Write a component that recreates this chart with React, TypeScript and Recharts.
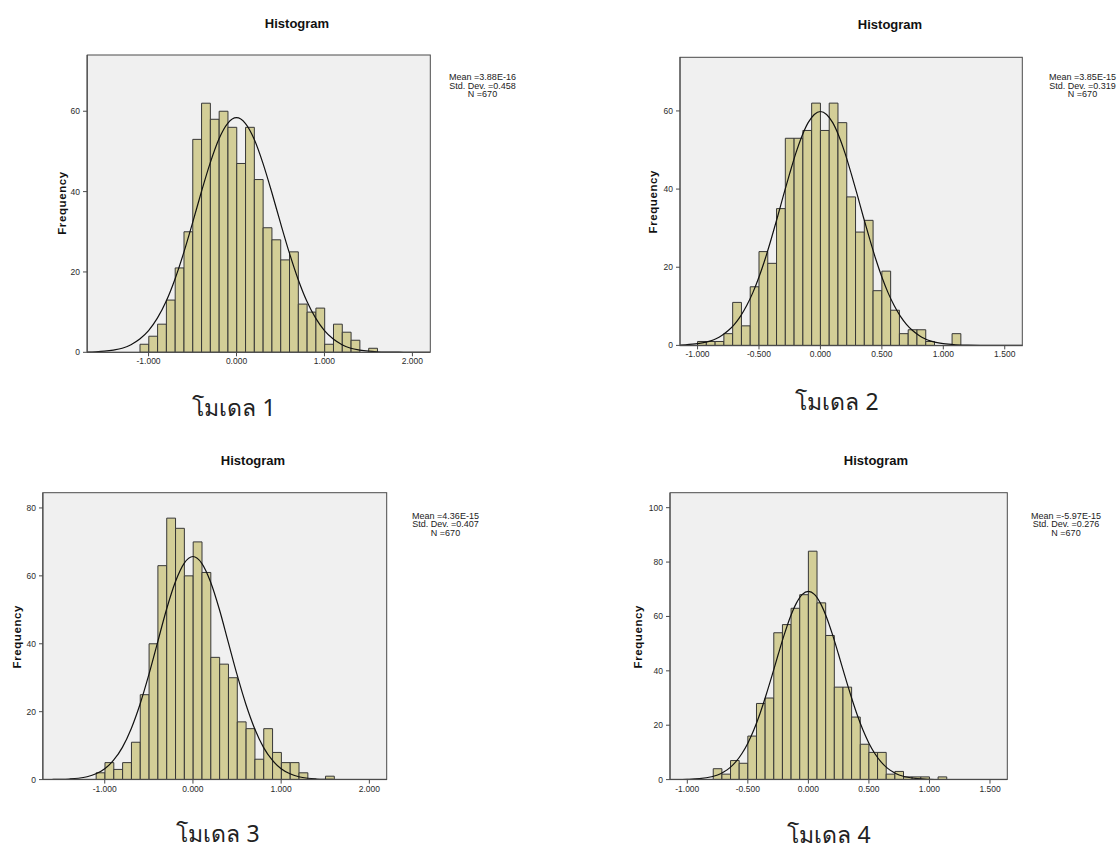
import { Bar, CartesianGrid, ComposedChart, Line, Rectangle, XAxis, YAxis } from "recharts";

// bin counts, left to right, starting at bin index firstBin
const model1Counts = [2, 4, 7, 13, 21, 30, 53, 62, 58, 60, 56, 47, 56, 43, 31, 28, 23, 25, 12, 10, 11, 2, 7, 5, 3, 0, 1];
const model2Counts = [1, 1, 1, 3, 11, 5, 15, 24, 21, 35, 53, 53, 55, 62, 55, 62, 57, 38, 29, 32, 14, 19, 9, 3, 4, 4, 1, 0, 0, 3];
const model3Counts = [2, 5, 3, 5, 11, 25, 40, 63, 77, 74, 60, 70, 61, 36, 34, 30, 17, 15, 6, 15, 8, 5, 5, 2, 0, 0, 1];
const model4Counts = [4, 2, 7, 6, 16, 28, 30, 54, 57, 63, 68, 84, 65, 53, 34, 34, 23, 13, 10, 10, 2, 3, 1, 1, 1, 0, 1];

// normal curve, read at these x positions
const model1CurveX = [-1.7, -1.6, -1.5, -1.4, -1.3, -1.2, -1.1, -1.0, -0.9, -0.8, -0.7, -0.6, -0.5, -0.4, -0.3, -0.2, -0.1, 0, 0.1, 0.2, 0.3, 0.4, 0.5, 0.6, 0.7, 0.8, 0.9, 1.0, 1.1, 1.2, 1.3, 1.4, 1.5, 1.6, 1.7, 1.8, 1.9, 2.0, 2.1, 2.2];
const model1CurveY = [0.06, 0.13, 0.27, 0.55, 1.0, 1.9, 3.3, 5.4, 8.5, 12.7, 18.2, 24.8, 32.2, 39.9, 47.1, 53.1, 57.0, 58.4, 57.0, 53.1, 47.1, 39.9, 32.2, 24.8, 18.2, 12.7, 8.5, 5.4, 3.3, 1.9, 1.0, 0.55, 0.27, 0.13, 0.06, 0.03, 0.01, 0, 0, 0];

const model2CurveX = [-1.2, -1.1, -1.0, -0.95, -0.9, -0.85, -0.8, -0.75, -0.7, -0.65, -0.6, -0.55, -0.5, -0.45, -0.4, -0.35, -0.3, -0.25, -0.2, -0.15, -0.1, -0.05, 0, 0.05, 0.1, 0.15, 0.2, 0.25, 0.3, 0.35, 0.4, 0.45, 0.5, 0.55, 0.6, 0.65, 0.7, 0.75, 0.8, 0.85, 0.9, 0.95, 1.0, 1.1, 1.2, 1.3, 1.4, 1.5, 1.7];
const model2CurveY = [0.05, 0.16, 0.44, 0.71, 1.1, 1.7, 2.6, 3.8, 5.4, 7.5, 10.2, 13.5, 17.5, 22.1, 27.3, 32.8, 38.5, 44.0, 49.2, 53.6, 57.0, 59.1, 59.85, 59.1, 57.0, 53.6, 49.2, 44.0, 38.5, 32.8, 27.3, 22.1, 17.5, 13.5, 10.2, 7.5, 5.4, 3.8, 2.6, 1.7, 1.1, 0.71, 0.44, 0.16, 0.05, 0.01, 0, 0, 0];

const model3CurveX = model1CurveX;
const model3CurveY = [0.01, 0.03, 0.07, 0.18, 0.4, 0.85, 1.7, 3.2, 5.7, 9.5, 15.0, 22.2, 30.9, 40.5, 50.1, 58.2, 63.7, 65.7, 63.7, 58.2, 50.1, 40.5, 30.9, 22.2, 15.0, 9.5, 5.7, 3.2, 1.7, 0.85, 0.4, 0.18, 0.07, 0.03, 0.01, 0, 0, 0, 0, 0];

const model4CurveX = [-1.2, -1.1, -1.0, -0.9, -0.8, -0.75, -0.7, -0.65, -0.6, -0.55, -0.5, -0.45, -0.4, -0.35, -0.3, -0.25, -0.2, -0.15, -0.1, -0.05, 0, 0.05, 0.1, 0.15, 0.2, 0.25, 0.3, 0.35, 0.4, 0.45, 0.5, 0.55, 0.6, 0.65, 0.7, 0.75, 0.8, 0.9, 1.0, 1.1, 1.2, 1.4, 1.7];
const model4CurveY = [0, 0.02, 0.1, 0.34, 1.04, 1.7, 2.8, 4.3, 6.5, 9.5, 13.4, 18.3, 24.2, 31.0, 38.3, 45.9, 53.2, 59.7, 64.8, 68.1, 69.2, 68.1, 64.8, 59.7, 53.2, 45.9, 38.3, 31.0, 24.2, 18.3, 13.4, 9.5, 6.5, 4.3, 2.8, 1.7, 1.04, 0.34, 0.1, 0.02, 0, 0, 0];

const wideTicks = [-1, 0, 1, 2];
const narrowTicks = [-1, -0.5, 0, 0.5, 1, 1.5];

const model1Stats = ["Mean =3.88E-16", "Std. Dev. =0.458", "N =670"];
const model2Stats = ["Mean =3.85E-15", "Std. Dev. =0.319", "N =670"];
const model3Stats = ["Mean =4.36E-15", "Std. Dev. =0.407", "N =670"];
const model4Stats = ["Mean =-5.97E-15", "Std. Dev. =0.276", "N =670"];

const captions = ["โมเดล 1", "โมเดล 2", "โมเดล 3", "โมเดล 4"];

const Y_AXIS_W = 50;
const PAD = 5;
const X_AXIS_H = 25;
const AXIS_COLOR = "#4a4a4a";
const FONT = "'Liberation Sans', Arial, sans-serif";

type PanelSpec = {
  counts: number[];
  firstBin: number;
  binWidth: number;
  curveX: number[];
  curveY: number[];
  xDomain: [number, number];
  xTicks: number[];
  yMax: number;
  yTicks: number[];
  stats: string[];
  caption: string;
  frame: { left: number; top: number; right: number; bottom: number };
  titleX: number;
  titleY: number;
  statsX: number;
  statsY: number;
  freqX: number;
  freqY: number;
  captionX: number;
  captionY: number;
};

const panels: PanelSpec[] = [
  {
    counts: model1Counts, firstBin: -11, binWidth: 0.1,
    curveX: model1CurveX, curveY: model1CurveY,
    xDomain: [-1.7, 2.2], xTicks: wideTicks, yMax: 74, yTicks: [0, 20, 40, 60],
    stats: model1Stats, caption: captions[0],
    frame: { left: 87.3, top: 55, right: 430.3, bottom: 352.3 },
    titleX: 297, titleY: 27.5, statsX: 482.5, statsY: 80, freqX: 61.7, freqY: 203, captionX: 234, captionY: 416,
  },
  {
    counts: model2Counts, firstBin: -14, binWidth: 1 / 14,
    curveX: model2CurveX, curveY: model2CurveY,
    xDomain: [-16 / 14, 23 / 14], xTicks: narrowTicks, yMax: 73.8, yTicks: [0, 20, 40, 60],
    stats: model2Stats, caption: captions[1],
    frame: { left: 680, top: 57.3, right: 1022.3, bottom: 345.7 },
    titleX: 890, titleY: 29, statsX: 1082.5, statsY: 80, freqX: 653.3, freqY: 201.7, captionX: 837, captionY: 410,
  },
  {
    counts: model3Counts, firstBin: -11, binWidth: 0.1,
    curveX: model3CurveX, curveY: model3CurveY,
    xDomain: [-1.7, 2.2], xTicks: wideTicks, yMax: 84.4, yTicks: [0, 20, 40, 60, 80],
    stats: model3Stats, caption: captions[2],
    frame: { left: 42.7, top: 492.7, right: 386.7, bottom: 779.3 },
    titleX: 253, titleY: 465, statsX: 445.5, statsY: 518.5, freqX: 16.7, freqY: 636.7, captionX: 218, captionY: 842,
  },
  {
    counts: model4Counts, firstBin: -11, binWidth: 1 / 14,
    curveX: model4CurveX, curveY: model4CurveY,
    xDomain: [-16 / 14, 23 / 14], xTicks: narrowTicks, yMax: 105.4, yTicks: [0, 20, 40, 60, 80, 100],
    stats: model4Stats, caption: captions[3],
    frame: { left: 670, top: 492.7, right: 1007.3, bottom: 779.3 },
    titleX: 876, titleY: 465, statsX: 1066, statsY: 518.5, freqX: 638.3, freqY: 636.7, captionX: 829, captionY: 843,
  },
];

function HistogramPanel({ p }: { p: PanelSpec }) {
  const { left, top, right, bottom } = p.frame;
  const plotW = right - left;
  const plotH = bottom - top;
  const width = plotW + Y_AXIS_W + PAD;
  const height = plotH + PAD + X_AXIS_H;

  const bars = p.counts
    .map((count, i) => ({ x: (p.firstBin + i + 0.5) * p.binWidth, count }))
    .filter((d) => d.count > 0);
  const curve = p.curveX.map((x, i) => ({ x, y: p.curveY[i] }));
  // full bin width in pixels; bars on a number axis get squeezed otherwise
  const binPx = (p.binWidth * plotW) / (p.xDomain[1] - p.xDomain[0]);

  const binShape = (props: any) => {
    const cx = props.x + props.width / 2;
    return <Rectangle {...props} x={cx - binPx / 2} width={binPx} />;
  };

  return (
    <div style={{ position: "absolute", left: left - Y_AXIS_W, top: top - PAD, width, height }}>
      <ComposedChart width={width} height={height} data={bars} margin={{ top: PAD, right: PAD, bottom: 0, left: 0 }}>
        <CartesianGrid fill="#f0f0f0" horizontal={false} vertical={false} />
        <XAxis
          dataKey="x"
          type="number"
          domain={p.xDomain}
          allowDataOverflow
          ticks={p.xTicks}
          interval={0}
          tickFormatter={(v: number) => v.toFixed(3)}
          height={X_AXIS_H}
          tickSize={4}
          tickMargin={2}
          stroke={AXIS_COLOR}
          tick={{ fill: "#2a2a2a", fontSize: 8.5, fontFamily: FONT }}
        />
        <YAxis
          type="number"
          domain={[0, p.yMax]}
          allowDataOverflow
          ticks={p.yTicks}
          interval={0}
          width={Y_AXIS_W}
          tickSize={4}
          tickMargin={3}
          stroke={AXIS_COLOR}
          tick={{ fill: "#2a2a2a", fontSize: 8.5, fontFamily: FONT }}
        />
        <Bar
          dataKey="count"
          fill="#d3ce97"
          stroke="#363636"
          strokeWidth={1}
          shape={binShape}
          isAnimationActive={false}
        />
        <Line
          data={curve}
          dataKey="y"
          type="monotone"
          stroke="#111"
          strokeWidth={1.2}
          dot={false}
          activeDot={false}
          isAnimationActive={false}
        />
      </ComposedChart>
    </div>
  );
}

export default function App() {
  return (
    <div style={{ position: "absolute", left: 0, top: 0, width: 1117, height: 850, background: "#fff" }}>
      {panels.map((p, i) => (
        <HistogramPanel key={i} p={p} />
      ))}
      <svg width={1117} height={850} style={{ position: "absolute", left: 0, top: 0, pointerEvents: "none" }}>
        {panels.map((p, i) => (
          <g key={i}>
            <rect
              x={p.frame.left}
              y={p.frame.top}
              width={p.frame.right - p.frame.left}
              height={p.frame.bottom - p.frame.top}
              fill="none"
              stroke={AXIS_COLOR}
              strokeWidth={1}
            />
            <text x={p.titleX} y={p.titleY} textAnchor="middle" fontFamily={FONT} fontWeight="bold" fontSize={13} fill="#111">
              Histogram
            </text>
            <text
              transform={`translate(${p.freqX},${p.freqY}) rotate(-90)`}
              textAnchor="middle"
              dominantBaseline="central"
              fontFamily={FONT}
              fontWeight="bold"
              fontSize={11.5}
              letterSpacing={0.6}
              fill="#111"
            >
              Frequency
            </text>
            {p.stats.map((line, j) => (
              <text key={j} x={p.statsX} y={p.statsY + j * 8.6} textAnchor="middle" fontFamily={FONT} fontSize={9} fill="#222">
                {line}
              </text>
            ))}
            <text x={p.captionX} y={p.captionY} textAnchor="middle" fontFamily="'Noto Sans', 'DejaVu Sans', sans-serif" fontSize={23} fill="#222">
              {p.caption}
            </text>
          </g>
        ))}
      </svg>
    </div>
  );
}
